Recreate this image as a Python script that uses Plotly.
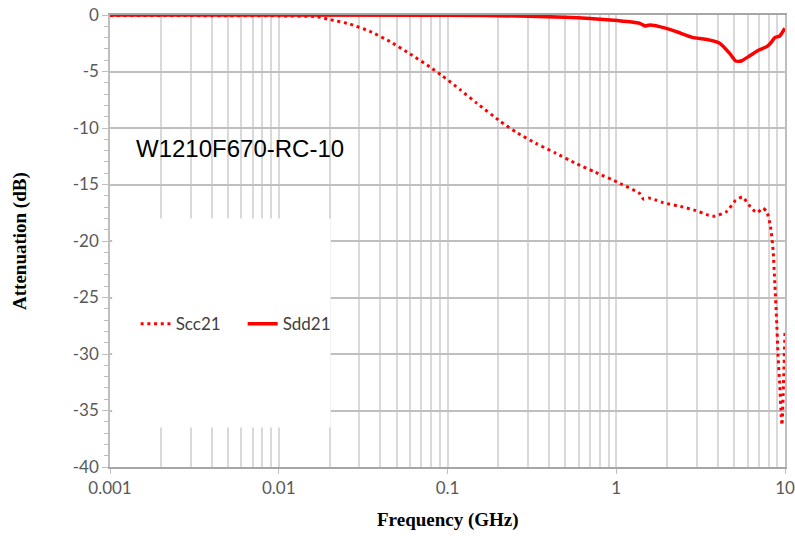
import plotly.graph_objects as go

# ---- data ----
scc21_freq = [0.001, 0.002, 0.005, 0.01, 0.0169, 0.02, 0.0264, 0.0347, 0.0456, 0.06,
              0.0787, 0.0935, 0.1186, 0.149, 0.205, 0.257, 0.338, 0.434, 0.57, 0.748,
              1.05, 1.38, 1.45, 1.56, 1.74, 1.89, 2.49, 2.95, 3.5, 3.85,
              4.5, 5.1, 5.6, 6.1, 6.8, 7.4, 7.8, 8.2, 8.5, 8.7,
              8.9, 9.1, 9.3, 9.5, 9.6, 9.8, 10.0]
scc21_db = [-0.05, -0.05, -0.06, -0.08, -0.15, -0.4, -0.8, -1.45, -2.35, -3.45,
            -4.6, -5.4, -6.6, -7.8, -9.4, -10.4, -11.4, -12.2, -13.1, -13.9,
            -14.9, -15.8, -16.3, -16.2, -16.4, -16.6, -17.0, -17.3, -17.7, -17.8,
            -17.4, -16.4, -16.1, -16.8, -17.5, -17.1, -17.4, -18.7, -20.8, -23.7,
            -26.7, -30.2, -32.6, -35.5, -36.3, -32.6, -28.0]

sdd21_freq = [0.001, 0.1, 0.3, 0.5, 0.7, 0.92, 1.2, 1.38, 1.48, 1.58,
              1.98, 2.4, 2.83, 3.39, 4.1, 4.7, 5.1, 5.5, 6.2, 7.0,
              7.8, 8.2, 8.7, 9.3, 9.9, 10.0]
sdd21_db = [0.0, -0.02, -0.1, -0.2, -0.3, -0.44, -0.6, -0.74, -0.97, -0.88,
            -1.18, -1.6, -1.98, -2.15, -2.5, -3.4, -4.07, -4.07, -3.6, -3.1,
            -2.8, -2.5, -2.0, -1.86, -1.27, -1.2]

x_tickvals = [0.001, 0.01, 0.1, 1, 10]
x_ticktext = ["0.001", "0.01", "0.1", "1", "10"]
y_tickvals = [0, -5, -10, -15, -20, -25, -30, -35, -40]
y_ticktext = ["0", "-5", "-10", "-15", "-20", "-25", "-30", "-35", "-40"]

part_name = "W1210F670-RC-10"
x_title = "Frequency (GHz)"
y_title = "Attenuation (dB)"

fig = go.Figure()
fig.add_trace(go.Scatter(x=scc21_freq, y=scc21_db, mode="lines", name="Scc21",
                         line=dict(color="#ff0000", width=3, dash="3px,3.7px",
                                   shape="spline", smoothing=0.5)))
fig.add_trace(go.Scatter(x=sdd21_freq, y=sdd21_db, mode="lines", name="Sdd21",
                         line=dict(color="#ff0000", width=3.5,
                                   shape="spline", smoothing=0.5)))

# white box hiding gridlines behind legend area
fig.add_shape(type="rect", xref="x", yref="y", x0=0.00103, x1=0.0203, y0=-36.5, y1=-18,
              fillcolor="white", line=dict(width=0), layer="between")

fig.add_annotation(x=0.0, xref="paper", xanchor="left", xshift=24,
                   y=-11.8, yref="y", yanchor="middle",
                   text=part_name, showarrow=False,
                   font=dict(family="Liberation Sans, Arial", size=24, color="#000000"))

title_font = dict(family="Liberation Serif, Times New Roman", size=19, color="#000000")
fig.add_annotation(x=0.5, xref="paper", xanchor="center", y=0, yref="paper",
                   yanchor="middle", yshift=-53, text="<b>" + x_title + "</b>",
                   showarrow=False, font=title_font)
fig.add_annotation(x=0, xref="paper", xanchor="center", xshift=-90, y=0.5, yref="paper",
                   yanchor="middle", textangle=-90, text="<b>" + y_title + "</b>",
                   showarrow=False, font=title_font)

tick_font = dict(family="Lato, Carlito, Open Sans", size=17, color="#595959")

fig.update_layout(
    width=795, height=536,
    margin=dict(l=110, r=10, t=15, b=69),
    paper_bgcolor="white", plot_bgcolor="white",
    showlegend=True,
    legend=dict(orientation="h", x=0.038, xanchor="left", y=0.316, yanchor="middle",
                bgcolor="rgba(0,0,0,0)", font=dict(family="Lato, Carlito, Open Sans",
                                                   size=17, color="#404040"),
                itemwidth=30, entrywidth=62),
    xaxis=dict(type="log", range=[-3, 1], tickvals=x_tickvals, ticktext=x_ticktext,
               tickfont=tick_font, automargin=False, ticklabeloverflow="allow",
               showgrid=True, gridcolor="#d9d9d9", gridwidth=1.5,
               showline=True, linecolor="#a6a6a6", linewidth=1.5, mirror=True,
               ticks="outside", ticklen=5, tickcolor="#bfbfbf",
               minor=dict(dtick="D1", showgrid=True, gridcolor="#d9d9d9", gridwidth=1.5,
                          ticks=""),
               zeroline=False),
    yaxis=dict(range=[-40, 0], tickvals=y_tickvals, ticktext=y_ticktext,
               tickfont=tick_font, automargin=False, ticklabeloverflow="allow",
               showgrid=True, gridcolor="#bfbfbf", gridwidth=1.5,
               showline=True, linecolor="#bfbfbf", linewidth=1.5, mirror=True,
               ticks="outside", ticklen=6, tickcolor="#bfbfbf",
               minor=dict(dtick=1, ticks="outside", ticklen=4, tickcolor="#bfbfbf",
                          showgrid=False),
               zeroline=False),
)

fig.write_html("out.html", config={"displayModeBar": False},
               post_script="document.body.style.margin='0';document.body.style.overflow='hidden';")
